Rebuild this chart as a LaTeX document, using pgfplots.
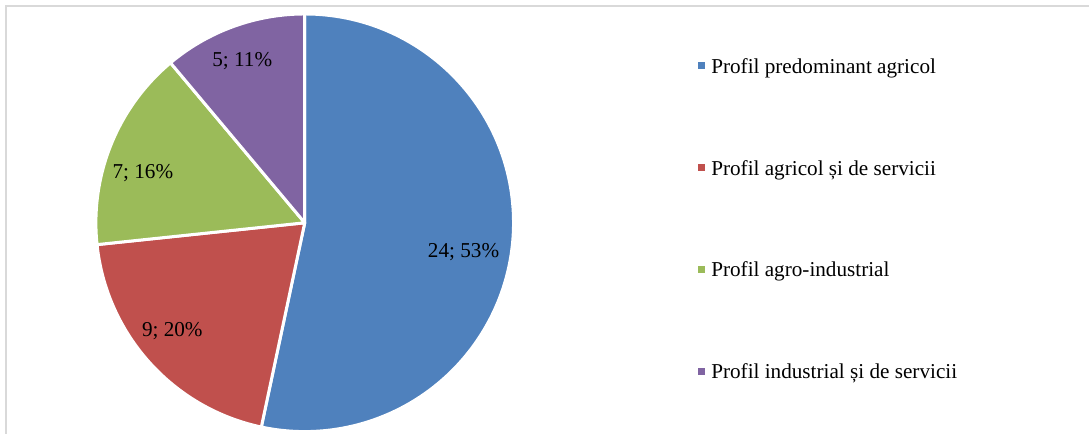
\documentclass[border=0pt]{standalone}
\usepackage{fontspec}
\setmainfont{Liberation Serif}
\usepackage{pgfplots}
\usepackage{pgfplotstable}
\pgfplotsset{compat=1.18}
\usetikzlibrary{calc}

\definecolor{pblue}{HTML}{4F81BD}
\definecolor{pred}{HTML}{C0504D}
\definecolor{pgreen}{HTML}{9BBB59}
\definecolor{ppurple}{HTML}{8064A2}
\definecolor{framegray}{HTML}{D9D9D9}

% slice values, in drawing order (clockwise from 12 o'clock);
% lx/ly = data label position (label centre x, baseline y) in chart pixels
\pgfplotstableread{
n  col     lx    ly
24 pblue   464   257.5
9  pred    172.5 337
7  pgreen  143   178.5
5  ppurple 242.5 67
}\piedata

\pgfplotsset{
  legend image code/.code={\fill[#1, draw=none] (0bp,-0.4bp) rectangle (3.3bp,2.9bp);},
}

\begin{document}
\begin{tikzpicture}[font=\fontsize{10.6bp}{12.7bp}\selectfont]
  % total and slice angles from the table
  \def\total{0}
  \pgfplotsforeachungrouped \i in {0,...,3}{%
    \pgfplotstablegetelem{\i}{n}\of\piedata
    \pgfmathsetmacro\total{\total+\pgfplotsretval}%
  }
  \def\cum{0}
  \pgfplotsforeachungrouped \i in {0,...,3}{%
    \pgfplotstablegetelem{\i}{n}\of\piedata \let\nv=\pgfplotsretval
    \pgfplotstablegetelem{\i}{col}\of\piedata \let\cv=\pgfplotsretval
    \pgfplotstablegetelem{\i}{lx}\of\piedata \let\lx=\pgfplotsretval
    \pgfplotstablegetelem{\i}{ly}\of\piedata \let\ly=\pgfplotsretval
    \pgfmathsetmacro\sa{90-360*\cum/\total}%
    \pgfmathsetmacro\ea{90-360*(\cum+\nv)/\total}%
    \pgfmathtruncatemacro\pc{round(100*\nv/\total)}%
    \pgfmathsetmacro\lyy{434-\ly}%
    \expandafter\xdef\csname sa\i\endcsname{\sa}%
    \expandafter\xdef\csname ea\i\endcsname{\ea}%
    \expandafter\xdef\csname nv\i\endcsname{\nv}%
    \expandafter\xdef\csname pc\i\endcsname{\pc}%
    \expandafter\xdef\csname cv\i\endcsname{\cv}%
    \expandafter\xdef\csname lx\i\endcsname{\lx}%
    \expandafter\xdef\csname ly\i\endcsname{\lyy}%
    \pgfmathsetmacro\cum{\cum+\nv}%
  }
  \begin{axis}[
    width=545bp, height=217bp, scale only axis,
    xmin=0, xmax=1090, ymin=0, ymax=434,
    hide axis, clip=false,
    legend style={at={(0.6406,0.4903)}, anchor=west,
                  draw=none, fill=none, inner sep=0pt,
                  nodes={inner sep=0pt, text height=7.5bp, text depth=2.5bp},
                  row sep=40.95bp,
                  /tikz/every odd column/.append style={column sep=3.35bp}},
    legend cell align=left,
  ]
    % keep the full chart area as the bounding box
    \path (axis cs:0,0) rectangle (axis cs:1090,434);
    % chart frame (top and left edges visible)
    \draw[framegray, line width=1bp] (axis cs:6.5,0) -- (axis cs:6.5,427.5) -- (axis cs:1090,427.5);

    % slices
    \pgfplotsinvokeforeach{0,...,3}{
      \filldraw[fill=\csname cv#1\endcsname, draw=white, line width=1.5bp, line join=round]
        (axis cs:305,211) -- ++(\csname sa#1\endcsname:104.5bp)
        arc[start angle=\csname sa#1\endcsname, end angle=\csname ea#1\endcsname, radius=104.5bp]
        -- cycle;
    }
    % data labels
    \pgfplotsinvokeforeach{0,...,3}{
      \node[anchor=base, inner sep=0pt] at (axis cs:\csname lx#1\endcsname,\csname ly#1\endcsname)
        {\csname nv#1\endcsname; \csname pc#1\endcsname\%};
    }

    \addlegendimage{fill=pblue}
    \addlegendentry{Profil predominant agricol}
    \addlegendimage{fill=pred}
    \addlegendentry{Profil agricol și de servicii}
    \addlegendimage{fill=pgreen}
    \addlegendentry{Profil agro-industrial}
    \addlegendimage{fill=ppurple}
    \addlegendentry{Profil industrial și de servicii}
  \end{axis}
\end{tikzpicture}
\end{document}
